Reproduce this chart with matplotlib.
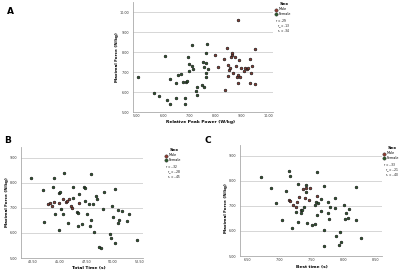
import matplotlib
matplotlib.use("Agg")
import matplotlib.pyplot as plt
from matplotlib.lines import Line2D

# ---- data ----
# Panel A: Relative Peak Power (W/kg) vs Maximal Force (N/kg)
a_male_x = [7.98, 8.09, 8.32, 8.36, 8.44, 8.47, 8.47, 8.51, 8.55, 8.59, 8.63, 8.63, 8.66, 8.74, 8.78,
            8.82, 8.85, 8.89, 8.85, 8.93, 8.97, 8.85, 9.08, 9.12, 9.20, 9.24, 9.31, 9.35, 9.39, 9.31,
            9.50, 9.50]
a_male_y = [7.85, 7.25, 7.65, 6.10, 8.20, 7.35, 6.80, 7.10, 7.20, 7.75, 7.85, 7.95, 6.95, 7.75, 7.30,
            6.75, 6.85, 7.60, 6.45, 6.75, 7.20, 9.60, 7.05, 7.20, 7.15, 7.20, 7.65, 6.95, 7.30, 6.45,
            8.15, 6.40]
a_female_x = [5.04, 6.07, 5.65, 5.84, 6.15, 6.26, 6.26, 6.49, 6.49, 6.56, 6.68, 6.76, 6.83, 6.83, 6.87,
              6.91, 6.95, 6.98, 6.98, 7.10, 7.10, 7.14, 7.25, 7.29, 7.29, 7.67, 7.63, 7.52, 7.63, 7.56,
              7.71, 7.63, 7.63, 7.48, 7.56]
a_female_y = [6.75, 7.80, 5.95, 5.80, 5.60, 5.40, 6.65, 6.45, 5.70, 6.85, 6.90, 6.50, 5.70, 5.40, 6.50,
              6.55, 7.75, 7.40, 7.05, 8.35, 7.30, 7.15, 6.05, 5.85, 6.25, 8.40, 7.95, 7.50, 7.45, 7.25,
              7.15, 6.95, 6.75, 6.35, 6.25]

# Panel B: Total Time (s) vs Maximal Force (N/kg)
b_male_x = [43.91, 44.10, 44.28, 44.94, 45.32, 45.60, 45.69, 46.07, 46.16, 46.82, 45.88, 44.47]
b_male_y = [7.16, 7.20, 7.08, 7.20, 7.36, 7.24, 7.28, 7.08, 7.00, 7.20, 7.36, 7.24]
b_female_x = [42.31, 43.44, 43.53, 44.38, 44.47, 44.57, 44.94, 44.94, 45.04, 45.13, 45.32, 45.42,
              45.79, 46.26, 46.26, 46.63, 46.73, 46.82, 46.73, 47.10, 47.29, 47.38, 47.38, 47.57,
              47.76, 47.85, 47.95, 47.95, 48.13, 48.23, 48.42, 48.51, 48.70, 48.88, 49.07, 49.17,
              49.92, 49.73, 49.82, 50.01, 50.20, 50.20, 50.48, 50.48, 50.58, 50.86, 51.33, 51.52,
              52.27]
b_female_y = [8.20, 7.72, 6.44, 7.84, 8.20, 6.76, 6.12, 7.60, 7.64, 6.96, 6.76, 8.40,
              6.40, 7.84, 7.40, 6.84, 6.80, 7.56, 6.28, 6.36, 7.84, 7.80, 7.28, 6.76,
              7.16, 6.28, 6.52, 8.36, 7.16, 6.04, 7.48, 7.36, 5.44, 5.40, 6.96, 7.64,
              7.08, 5.96, 5.80, 6.64, 5.60, 7.76, 6.92, 6.40, 6.52, 6.88, 6.48, 6.76,
              5.72]

# Panel C: Best time (s) vs Maximal Force (N/kg)
c_male_x = [7.15, 7.22, 7.28, 7.31, 7.37, 7.42, 7.47, 7.48, 7.40, 7.59, 7.26, 7.17]
c_male_y = [7.24, 7.04, 7.16, 7.36, 7.68, 7.72, 7.24, 7.72, 7.32, 7.40, 6.96, 7.20]
c_female_x = [6.72, 6.87, 6.95, 7.05, 7.11, 7.15, 7.17, 7.20, 7.26, 7.29, 7.29, 7.34, 7.34, 7.36,
              7.39, 7.42, 7.42, 7.43, 7.51, 7.56, 7.56, 7.57, 7.59, 7.59, 7.61, 7.65, 7.65, 7.70,
              7.70, 7.70, 7.76, 7.76, 7.78, 7.79, 7.87, 7.87, 7.89, 7.95, 7.96, 7.93, 8.01, 8.03,
              8.04, 8.07, 8.09, 8.20, 8.20, 8.28]
c_female_y = [8.16, 7.72, 7.12, 6.44, 7.60, 8.40, 8.20, 6.12, 6.76, 6.36, 7.88, 6.84, 6.72, 6.84,
              6.96, 7.56, 7.84, 6.32, 6.24, 6.28, 7.04, 7.16, 6.64, 8.36, 7.12, 7.28, 6.80, 6.04,
              7.80, 5.40, 6.72, 7.16, 6.48, 6.96, 7.32, 6.92, 5.80, 5.96, 5.56, 5.44, 7.04, 6.48,
              6.72, 6.52, 6.88, 7.76, 6.44, 5.72]

a_xticks = [5.0, 6.0, 7.0, 8.0, 9.0, 10.0]
a_yticks = [5.0, 6.0, 7.0, 8.0, 9.0, 10.0]
b_xticks = [42.5, 45.0, 47.5, 50.0, 52.5]
c_xticks = [6.5, 7.0, 7.5, 8.0, 8.5]
bc_yticks = [5.0, 6.0, 7.0, 8.0, 9.0]

# correlation: all, males (m), females (f)
a_stats = [".29", ".13", ".34"]
b_stats = ["-.32", "-.28", "-.45"]
c_stats = ["-.33", "-.21", "-.40"]
stat_subs = ["", "m", "f"]

MALE = "#8e3b30"
FEMALE = "#2b5a2b"
W, H = 400, 271

fig = plt.figure(figsize=(4, 2.71), dpi=100)


def fx(x):
    return x / W


def fy(y):
    return 1 - y / H


def px_axes(l, t, r, b):
    return fig.add_axes([fx(l), fy(b), (r - l) / W, (b - t) / H])


def style(ax, xticks, yticks, xlim, ylim):
    ax.set_xlim(*xlim)
    ax.set_ylim(*ylim)
    ax.set_xticks(xticks)
    ax.set_yticks(yticks)
    ax.set_xticklabels(["%.2f" % v for v in xticks])
    ax.set_yticklabels(["%.2f" % v for v in yticks])
    ax.tick_params(length=0, labelsize=2.4, colors="#333333")
    ax.tick_params(axis="x", pad=1.5)
    ax.tick_params(axis="y", pad=3)
    for s in ["top", "right"]:
        ax.spines[s].set_visible(False)
    for s in ["left", "bottom"]:
        ax.spines[s].set_color("#aaaaaa")
        ax.spines[s].set_linewidth(0.6)
    ax.grid(axis="y", color="#d0d0d0", linewidth=0.6)
    ax.set_axisbelow(True)


def labels(xlab, xx, xy, yx, yy):
    fig.text(fx(xx), fy(xy), xlab, fontsize=3.2, fontweight="bold", ha="center", va="center")
    fig.text(fx(yx), fy(yy), "Maximal Force (N/kg)", fontsize=3.0, fontweight="bold",
             ha="center", va="center", rotation=90)


def points(ax, mx, my, fx_, fy_):
    ax.scatter(fx_, fy_, s=3.5, c=FEMALE, edgecolors="#1a1a1a", linewidths=0.5, zorder=3)
    ax.scatter(mx, my, s=3.5, c=MALE, edgecolors="#1a1a1a", linewidths=0.5, zorder=3)


def legend(x, y, stats):
    fig.text(fx(x + 4), fy(y), "Sex", fontsize=3.2, fontweight="bold", color="black",
             ha="left", va="center")
    for i, (lab, col) in enumerate([("Male", MALE), ("Female", FEMALE)]):
        yy = fy(y + 5.5 + 4.5 * i)
        fig.add_artist(Line2D([fx(x)], [yy], marker="o", markersize=2.4, color=col,
                              markeredgecolor="#333333", markeredgewidth=0.3,
                              transform=fig.transFigure))
        fig.text(fx(x + 2.5), yy, lab, fontsize=2.4, va="center")
    for i, (val, sub) in enumerate(zip(stats, stat_subs)):
        x0 = x + (0 if i == 0 else 1.5)
        yl = y + 17.5 + 4.6 * i
        fig.text(fx(x0), fy(yl), "r", fontsize=2.1, va="center")
        if sub:
            fig.text(fx(x0 + 1.6), fy(yl + 0.9), sub, fontsize=1.4, va="center")
        fig.text(fx(x0 + (3.4 if sub else 1.8)), fy(yl), "= " + val, fontsize=2.1, va="center")


axA = px_axes(133, 2, 273, 112)
points(axA, a_male_x, a_male_y, a_female_x, a_female_y)
style(axA, a_xticks, a_yticks, (4.85, 10.19), (5.0, 10.5))
labels("Relative Peak Power (W/kg)", 201, 122, 117, 57)
legend(276, 4, a_stats)

axB = px_axes(21, 147, 143, 258)
points(axB, b_male_x, b_male_y, b_female_x, b_female_y)
style(axB, b_xticks, bc_yticks, (41.37, 52.83), (5.0, 9.44))
labels("Total Time (s)", 89, 267.5, 7, 202)
legend(166, 150, b_stats)

axC = px_axes(240, 145, 382, 256)
points(axC, c_male_x, c_male_y, c_female_x, c_female_y)
style(axC, c_xticks, bc_yticks, (6.39, 8.60), (5.0, 9.44))
labels("Best time (s)", 312, 266.5, 226, 208)
legend(384, 148, c_stats)

fig.text(fx(7), fy(11), "A", fontsize=6.5, fontweight="bold", va="center")
fig.text(fx(4), fy(141), "B", fontsize=6.5, fontweight="bold", va="center")
fig.text(fx(205), fy(141), "C", fontsize=6.5, fontweight="bold", va="center")

fig.savefig("out.png", dpi=100, facecolor="white")
